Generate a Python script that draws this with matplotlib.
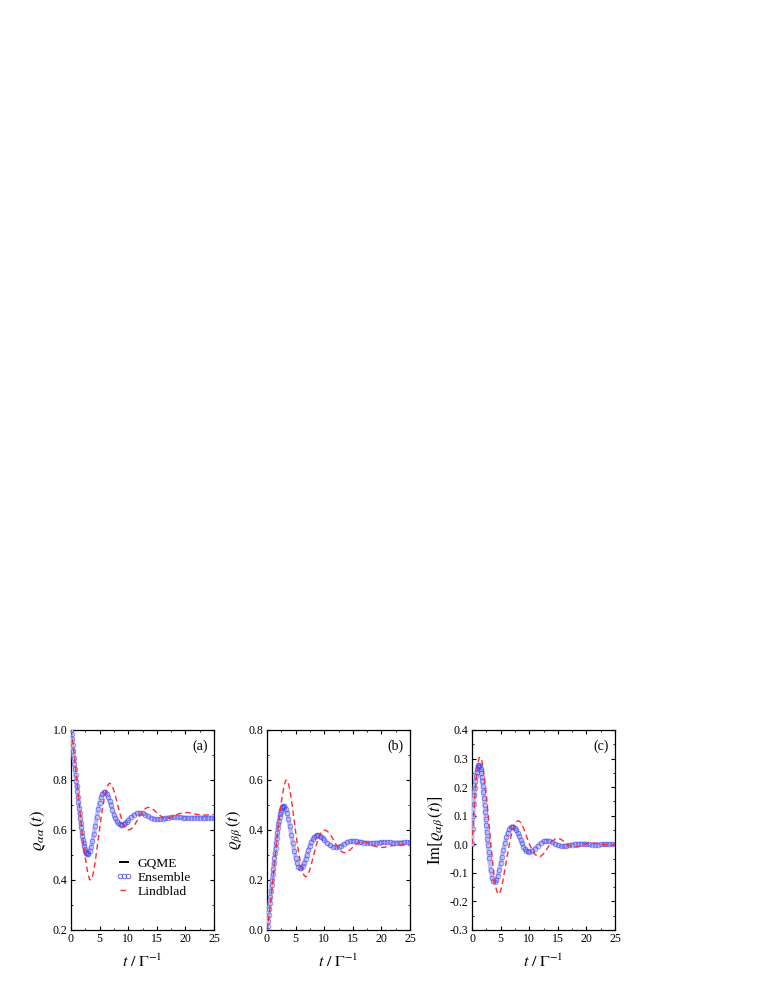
import numpy as np
import matplotlib
matplotlib.use("Agg")
import matplotlib.pyplot as plt
from matplotlib.ticker import MultipleLocator, FormatStrFormatter

plt.rcParams['font.family'] = ['Liberation Serif', 'DejaVu Serif']
plt.rcParams['mathtext.fontset'] = 'stix'
plt.rcParams['axes.unicode_minus'] = False

# ---- time grids ----
t_q = np.round(np.concatenate([np.arange(0, 2.95, 0.1), np.arange(3.0, 9.8, 0.25), np.arange(10.0, 25.01, 0.5)]), 3)
t_l = np.round(np.concatenate([np.arange(0, 9.8, 0.25), np.arange(10.0, 25.01, 0.5)]), 3)

# ---- panel (a): rho_aa ----
gqme_a = [1.000, 0.985, 0.963, 0.940, 0.915, 0.890, 0.866, 0.843, 0.820, 0.798,
          0.776, 0.755, 0.733, 0.712, 0.690, 0.670, 0.650, 0.630, 0.611, 0.593,
          0.577, 0.562, 0.548, 0.536, 0.526, 0.518, 0.512, 0.508, 0.505, 0.505,
          0.507, 0.516, 0.532, 0.556, 0.585, 0.618, 0.652, 0.683, 0.710, 0.732,
          0.746, 0.752, 0.751, 0.745, 0.733, 0.717, 0.699, 0.680, 0.662, 0.647,
          0.636, 0.628, 0.623, 0.621, 0.621, 0.623, 0.627, 0.633,
          0.640, 0.652, 0.661, 0.667, 0.669, 0.667, 0.662, 0.655, 0.649, 0.645,
          0.643, 0.644, 0.646, 0.648, 0.650, 0.651, 0.652, 0.652, 0.651, 0.650,
          0.649, 0.649, 0.649, 0.649, 0.650, 0.650, 0.650, 0.650, 0.649, 0.649, 0.649]
ens_a = gqme_a
lind_a = [1.000, 0.962, 0.915, 0.862, 0.806, 0.748, 0.690, 0.633, 0.580, 0.532,
          0.489, 0.452, 0.421, 0.402, 0.400, 0.413, 0.440, 0.476, 0.518, 0.562,
          0.606, 0.648, 0.686, 0.719, 0.747, 0.768, 0.782, 0.787, 0.784, 0.773,
          0.757, 0.737, 0.715, 0.692, 0.670, 0.650, 0.633, 0.619, 0.609, 0.603,
          0.600, 0.604, 0.616, 0.635, 0.656, 0.674, 0.686, 0.691, 0.688, 0.680,
          0.669, 0.659, 0.651, 0.647, 0.647, 0.651, 0.656, 0.662, 0.666, 0.669,
          0.670, 0.669, 0.667, 0.665, 0.662, 0.661, 0.660, 0.660, 0.660, 0.661, 0.662]

# ---- panel (b): rho_bb ----
gqme_b = [0.000, 0.015, 0.037, 0.060, 0.085, 0.110, 0.134, 0.157, 0.180, 0.202,
          0.224, 0.245, 0.267, 0.288, 0.310, 0.330, 0.350, 0.370, 0.389, 0.407,
          0.423, 0.438, 0.452, 0.464, 0.474, 0.482, 0.488, 0.492, 0.495, 0.495,
          0.493, 0.484, 0.468, 0.444, 0.415, 0.382, 0.348, 0.317, 0.290, 0.268,
          0.254, 0.248, 0.249, 0.255, 0.267, 0.283, 0.301, 0.320, 0.338, 0.353,
          0.364, 0.372, 0.377, 0.379, 0.379, 0.377, 0.373, 0.367,
          0.360, 0.348, 0.339, 0.333, 0.331, 0.333, 0.338, 0.345, 0.351, 0.355,
          0.357, 0.356, 0.354, 0.352, 0.350, 0.349, 0.348, 0.348, 0.349, 0.350,
          0.351, 0.351, 0.351, 0.351, 0.350, 0.350, 0.350, 0.350, 0.351, 0.351, 0.351]
ens_b = gqme_b
lind_b = [0.000, 0.038, 0.085, 0.138, 0.194, 0.252, 0.310, 0.367, 0.420, 0.468,
          0.511, 0.548, 0.579, 0.598, 0.600, 0.587, 0.560, 0.524, 0.482, 0.438,
          0.394, 0.352, 0.314, 0.281, 0.253, 0.232, 0.218, 0.213, 0.216, 0.227,
          0.243, 0.263, 0.285, 0.308, 0.330, 0.350, 0.367, 0.381, 0.391, 0.397,
          0.400, 0.396, 0.384, 0.365, 0.344, 0.326, 0.314, 0.309, 0.312, 0.320,
          0.331, 0.341, 0.349, 0.353, 0.353, 0.349, 0.344, 0.338, 0.334, 0.331,
          0.330, 0.331, 0.333, 0.335, 0.338, 0.339, 0.340, 0.340, 0.340, 0.339, 0.338]

# ---- panel (c): Im rho_ab ----
gqme_c = [0.000, 0.055, 0.100, 0.140, 0.172, 0.198, 0.220, 0.238, 0.252, 0.263,
          0.271, 0.276, 0.277, 0.275, 0.270, 0.262, 0.251, 0.237, 0.221, 0.203,
          0.183, 0.161, 0.138, 0.114, 0.090, 0.066, 0.042, 0.019, -0.004, -0.026,
          -0.048, -0.090, -0.117, -0.129, -0.131, -0.124, -0.110, -0.090, -0.067, -0.043,
          -0.019, 0.004, 0.024, 0.040, 0.052, 0.059, 0.062, 0.062, 0.058, 0.050,
          0.040, 0.028, 0.015, 0.003, -0.008, -0.016, -0.022, -0.025,
          -0.026, -0.023, -0.015, -0.005, 0.004, 0.010, 0.013, 0.012, 0.008, 0.002,
          -0.003, -0.006, -0.006, -0.005, -0.003, -0.001, 0.001, 0.002, 0.002, 0.002,
          0.001, 0.000, -0.001, -0.001, -0.001, 0.000, 0.000, 0.000, 0.000, 0.000, 0.000]
ens_c = gqme_c
lind_c = [0.000, 0.090, 0.170, 0.235, 0.280, 0.303, 0.305, 0.290, 0.260, 0.220,
          0.172, 0.120, 0.065, 0.010, -0.042, -0.090, -0.130, -0.158, -0.173, -0.174,
          -0.163, -0.143, -0.117, -0.088, -0.058, -0.030, -0.003, 0.022, 0.043, 0.060,
          0.072, 0.079, 0.082, 0.081, 0.076, 0.068, 0.057, 0.044, 0.030, 0.016,
          0.003, -0.020, -0.035, -0.043, -0.042, -0.033, -0.019, -0.004, 0.009, 0.018,
          0.021, 0.018, 0.011, 0.003, -0.004, -0.009, -0.010, -0.009, -0.006, -0.002,
          0.002, 0.004, 0.005, 0.004, 0.003, 0.001, -0.001, -0.002, -0.002, -0.002, -0.001]

panels = [
    dict(g=gqme_a, e=ens_a, l=lind_a, ylim=(0.2, 1.0), major=0.2, minor=0.1,
         ylabel=r'$\varrho_{\alpha\alpha}\,(t)$', tag='(a)'),
    dict(g=gqme_b, e=ens_b, l=lind_b, ylim=(0.0, 0.8), major=0.2, minor=0.1,
         ylabel=r'$\varrho_{\beta\beta}\,(t)$', tag='(b)'),
    dict(g=gqme_c, e=ens_c, l=lind_c, ylim=(-0.3, 0.4), major=0.1, minor=0.05,
         ylabel=r'$\mathrm{Im}[\varrho_{\alpha\beta}\,(t)]$', tag='(c)'),
]

fig = plt.figure(figsize=(7.65, 9.9), dpi=100)
lefts = [71, 267, 472]
W, H = 765, 990
for i, p in enumerate(panels):
    ax = fig.add_axes([lefts[i] / W, 60 / H, 143 / W, 200 / H])
    ax.plot(t_q, p['g'], color='black', lw=1.4, zorder=2, label='GQME')
    # ensemble: dense open circles forming a light band
    ax.plot(t_q, p['e'], color='#bdbdf5', lw=3.2, solid_capstyle='round', zorder=3)
    ax.plot(t_q, p['e'], ls='none', marker='o', ms=3.4, mfc='none', mec='#4444f0',
            mew=0.55, alpha=0.75, zorder=3.5, label='Ensemble')
    ax.plot(t_l, p['l'], color='#ff2a2a', lw=1.0, ls=(0, (4, 2.6)), zorder=4, label='Lindblad')
    ax.set_xlim(0, 25)
    ax.set_ylim(*p['ylim'])
    ax.xaxis.set_major_locator(MultipleLocator(5))
    ax.xaxis.set_minor_locator(MultipleLocator(2.5))
    ax.yaxis.set_major_locator(MultipleLocator(p['major']))
    ax.yaxis.set_minor_locator(MultipleLocator(p['minor']))
    ax.yaxis.set_major_formatter(FormatStrFormatter('%.1f'))
    ax.tick_params(which='both', direction='in', top=True, right=True, labelsize=8.5, pad=2.5)
    ax.tick_params(which='major', length=3, width=0.8)
    ax.tick_params(which='minor', length=1.6, width=0.6)
    for s in ax.spines.values():
        s.set_linewidth(0.9)
    ax.set_xlabel(r'$t\ /\ \Gamma^{-1}$', fontsize=11.5, labelpad=6)
    ax.set_ylabel(p['ylabel'], fontsize=12, labelpad=3)
    ax.text(0.955, 0.95, p['tag'], transform=ax.transAxes, ha='right', va='top', fontsize=10)
    if i == 0:
        leg = ax.legend(loc='upper left', bbox_to_anchor=(0.25, 0.41), frameon=False, fontsize=9.7,
                        handlelength=1.2, handletextpad=0.4, labelspacing=0.12, numpoints=3,
                        borderpad=0.2)
        for h in leg.legend_handles:
            h.set_alpha(1.0)

fig.savefig('out.png', dpi=100)
